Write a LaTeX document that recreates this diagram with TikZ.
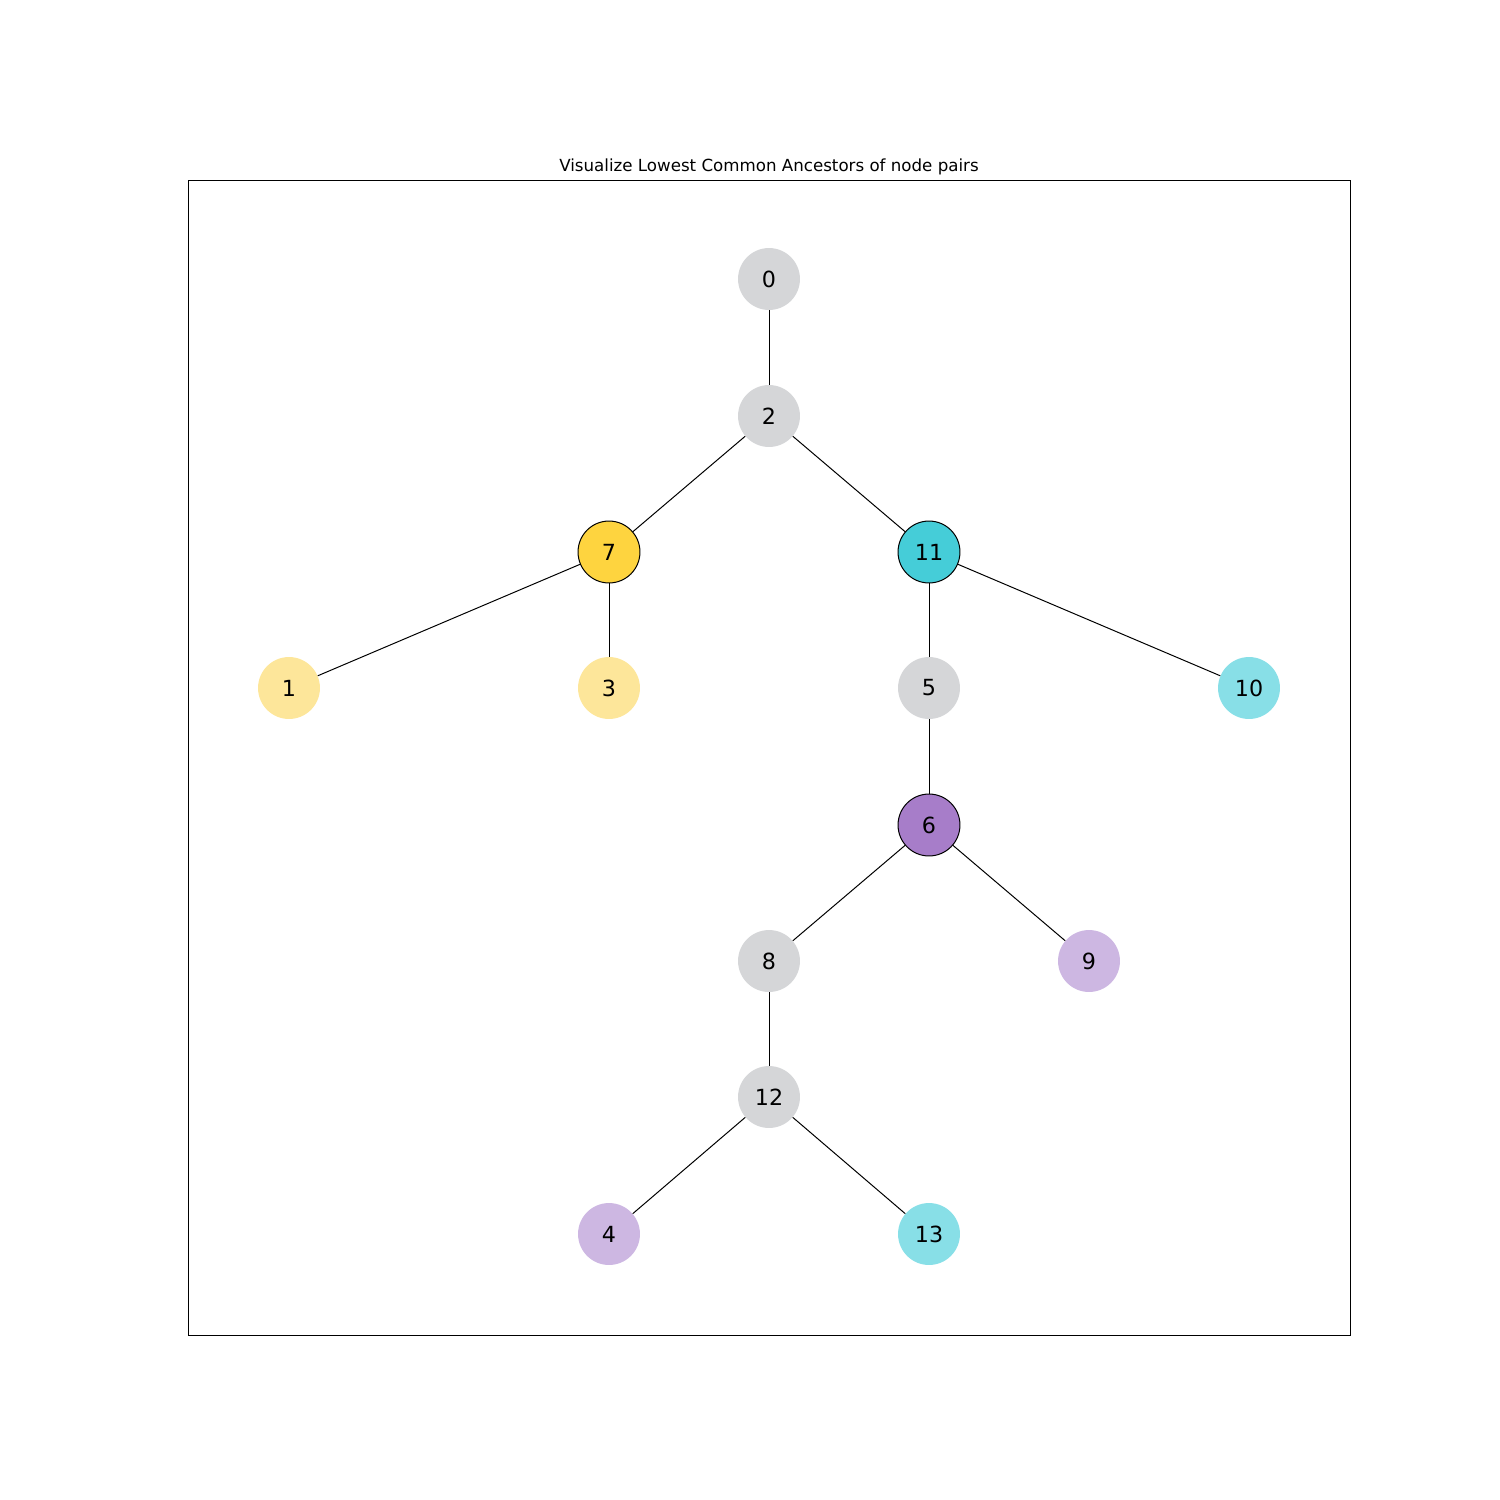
\documentclass[tikz,border=0pt]{standalone}
\usepackage{fontspec}
\setmainfont{DejaVu Sans}
\definecolor{cgray}{HTML}{D5D6D8}
\definecolor{cyell}{HTML}{FED43F}
\definecolor{cyelll}{HTML}{FDE69A}
\definecolor{ccyan}{HTML}{45CDD8}
\definecolor{ccyanl}{HTML}{88DFE7}
\definecolor{cpurp}{HTML}{A77DC9}
\definecolor{cpurpl}{HTML}{CDB7E2}
\begin{document}
\begin{tikzpicture}[x=0.72pt,y=-0.72pt,
  vnode/.style={circle,minimum size=44.6pt,inner sep=0pt,font=\fontsize{16}{18}\selectfont},
  hnode/.style={vnode,draw=black,line width=0.72pt},
  edge/.style={draw=black,line width=0.72pt}]
\useasboundingbox (0,0) rectangle (1500,1500);
\draw[line width=0.6pt] (188,180) rectangle (1350,1335);
\node[font=\fontsize{12}{14}\selectfont,anchor=base,inner sep=0pt] (title) at (769,171) {Visualize Lowest Common Ancestors of node pairs};
\begin{scope}[xshift=0.72pt]
\node[vnode,fill=cgray] (n0) at (768,279) {0};
\node[vnode,fill=cgray] (n2) at (768,416) {2};
\node[hnode,fill=cyell] (n7) at (608,552) {7};
\node[hnode,fill=ccyan] (n11) at (928,552) {11};
\node[vnode,fill=cyelll] (n1) at (288,688) {1};
\node[vnode,fill=cyelll] (n3) at (608,688) {3};
\node[vnode,fill=cgray] (n5) at (928,688) {5};
\node[vnode,fill=ccyanl] (n10) at (1248,688) {10};
\node[hnode,fill=cpurp] (n6) at (928,825) {6};
\node[vnode,fill=cgray] (n8) at (768,961) {8};
\node[vnode,fill=cpurpl] (n9) at (1088,961) {9};
\node[vnode,fill=cgray] (n12) at (768,1097) {12};
\node[vnode,fill=cpurpl] (n4) at (608,1234) {4};
\node[vnode,fill=ccyanl] (n13) at (928,1234) {13};
\end{scope}
\draw[edge] (n0) -- (n2);
\draw[edge] (n2) -- (n7);
\draw[edge] (n2) -- (n11);
\draw[edge] (n7) -- (n1);
\draw[edge] (n7) -- (n3);
\draw[edge] (n11) -- (n5);
\draw[edge] (n11) -- (n10);
\draw[edge] (n5) -- (n6);
\draw[edge] (n6) -- (n8);
\draw[edge] (n6) -- (n9);
\draw[edge] (n8) -- (n12);
\draw[edge] (n12) -- (n4);
\draw[edge] (n12) -- (n13);
\end{tikzpicture}
\end{document}
